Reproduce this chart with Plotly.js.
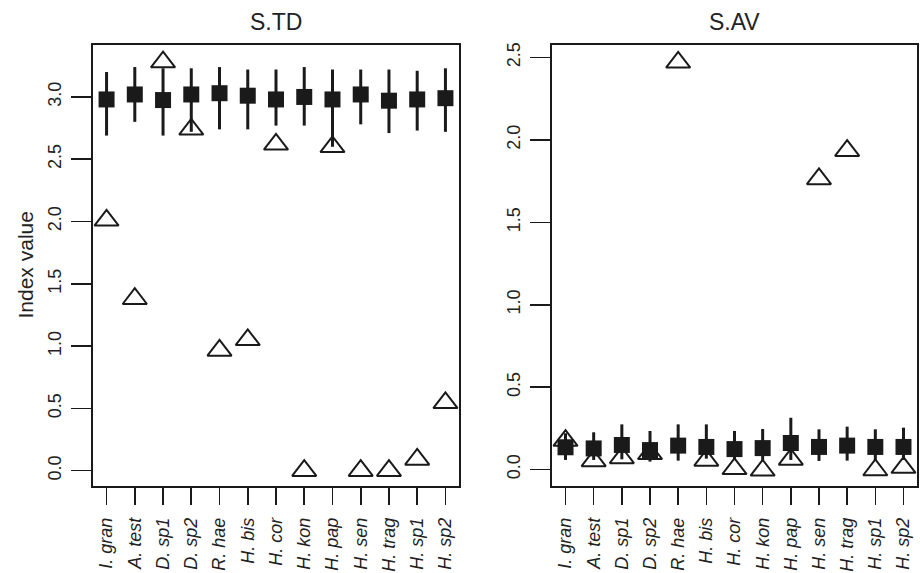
<!DOCTYPE html>
<html>
<head>
<meta charset="utf-8">
<script src="https://cdn.plot.ly/plotly-3.0.1.min.js"></script>
<style>html,body{margin:0;padding:0;background:#fff;}</style>
</head>
<body>
<div id="chart" style="width:920px;height:573px;"></div>
<script>
const species = ["I. gran","A. test","D. sp1","D. sp2","R. hae","H. bis","H. cor","H. kon","H. pap","H. sen","H. trag","H. sp1","H. sp2"];

const tdMean  = [2.98, 3.02, 2.975, 3.02, 3.03, 3.01, 2.98, 3.00, 2.98, 3.02, 2.97, 2.98, 2.99];
const tdHigh  = [3.20, 3.24, 3.23, 3.23, 3.24, 3.22, 3.22, 3.24, 3.22, 3.22, 3.22, 3.21, 3.23];
const tdLow   = [2.69, 2.80, 2.69, 2.72, 2.74, 2.74, 2.77, 2.77, 2.60, 2.78, 2.71, 2.73, 2.72];
const tdObs   = [2.01, 1.38, 3.28, 2.74, 0.965, 1.05, 2.62, 0.0, 2.60, 0.0, 0.0, 0.09, 0.545];

const avMean  = [0.135, 0.128, 0.149, 0.118, 0.145, 0.137, 0.124, 0.130, 0.161, 0.137, 0.145, 0.137, 0.137];
const avHigh  = [0.22, 0.226, 0.274, 0.234, 0.274, 0.274, 0.234, 0.246, 0.314, 0.244, 0.260, 0.244, 0.254];
const avLow   = [0.058, 0.058, 0.062, 0.048, 0.054, 0.066, 0.058, 0.058, 0.058, 0.052, 0.054, 0.058, 0.058];
const avObs   = [0.176, 0.052, 0.070, 0.095, 2.471, 0.055, 0.004, -0.005, 0.061, 1.763, 1.935, -0.003, 0.012];

const tdTicks = [0, 0.5, 1, 1.5, 2, 2.5, 3];
const avTicks = [0, 0.5, 1, 1.5, 2, 2.5];

const ink = '#1a1a1a';

function meanTrace(mean, hi, lo, xa, ya) {
  return {
    type: 'scatter', mode: 'markers', x: species, y: mean, xaxis: xa, yaxis: ya,
    marker: {symbol: 'square', size: 16, color: ink, line: {width: 0}},
    error_y: {type: 'data', symmetric: false,
      array: hi.map((h, i) => h - mean[i]),
      arrayminus: lo.map((l, i) => mean[i] - l),
      color: ink, thickness: 3, width: 0},
    showlegend: false, hoverinfo: 'skip'
  };
}
function obsTrace(obs, xa, ya) {
  return {
    type: 'scatter', mode: 'markers', x: species, y: obs, xaxis: xa, yaxis: ya,
    marker: {symbol: 'triangle-up-open', size: 21, color: ink, line: {width: 2, color: ink}},
    showlegend: false, hoverinfo: 'skip', cliponaxis: false
  };
}

const data = [
  meanTrace(tdMean, tdHigh, tdLow, 'x', 'y'),
  obsTrace(tdObs, 'x', 'y'),
  meanTrace(avMean, avHigh, avLow, 'x2', 'y2'),
  obsTrace(avObs, 'x2', 'y2')
];

const font = {family: 'Liberation Sans, Arial, Helvetica, sans-serif', color: '#222'};

function xAxis(domain, anchor) {
  return {
    domain: domain, anchor: anchor, type: 'category', range: [-0.48, 12.48],
    showline: true, mirror: true, linecolor: ink, linewidth: 1.6,
    ticks: 'outside', ticklen: 17, tickwidth: 1.6, tickcolor: ink,
    tickangle: -90, ticklabelstandoff: 6,
    tickfont: {family: font.family, size: 18, color: '#222', style: 'italic'},
    showgrid: false, zeroline: false, fixedrange: true
  };
}
function yAxis(domain, anchor, range, ticks) {
  return {
    domain: domain, anchor: anchor, range: range,
    tickmode: 'array', tickvals: ticks, ticktext: ticks.map(v => v.toFixed(1)),
    showline: true, mirror: true, linecolor: ink, linewidth: 1.6,
    ticks: 'outside', ticklen: 20, tickwidth: 1.6, tickcolor: ink,
    tickangle: -90, ticklabelstandoff: 3,
    tickfont: {family: font.family, size: 18, color: '#222'},
    showgrid: false, zeroline: false, fixedrange: true
  };
}

const yDom = [(573 - 486) / 573, (573 - 45) / 573];

const layout = {
  width: 920, height: 573,
  margin: {l: 0, r: 0, t: 0, b: 0},
  paper_bgcolor: '#fff', plot_bgcolor: '#fff',
  font: font,
  showlegend: false,
  xaxis: xAxis([93 / 920, 459 / 920], 'y'),
  yaxis: yAxis(yDom, 'x', [-0.123, 3.417], tdTicks),
  xaxis2: xAxis([552 / 920, 917 / 920], 'y2'),
  yaxis2: yAxis(yDom, 'x2', [-0.1, 2.576], avTicks),
  annotations: [
    {text: 'S.TD', xref: 'paper', yref: 'paper', x: 276 / 920, y: (573 - 22) / 573,
     showarrow: false, xanchor: 'center', yanchor: 'middle', font: {family: font.family, size: 23, color: '#222'}},
    {text: 'S.AV', xref: 'paper', yref: 'paper', x: 734 / 920, y: (573 - 22) / 573,
     showarrow: false, xanchor: 'center', yanchor: 'middle', font: {family: font.family, size: 23, color: '#222'}},
    {text: 'Index value', xref: 'paper', yref: 'paper', x: 25 / 920, y: (573 - 265.5) / 573,
     showarrow: false, textangle: -90, xanchor: 'center', yanchor: 'middle', font: {family: font.family, size: 21, color: '#222'}}
  ]
};

Plotly.newPlot('chart', data, layout, {staticPlot: true, displayModeBar: false});
</script>
</body>
</html>
